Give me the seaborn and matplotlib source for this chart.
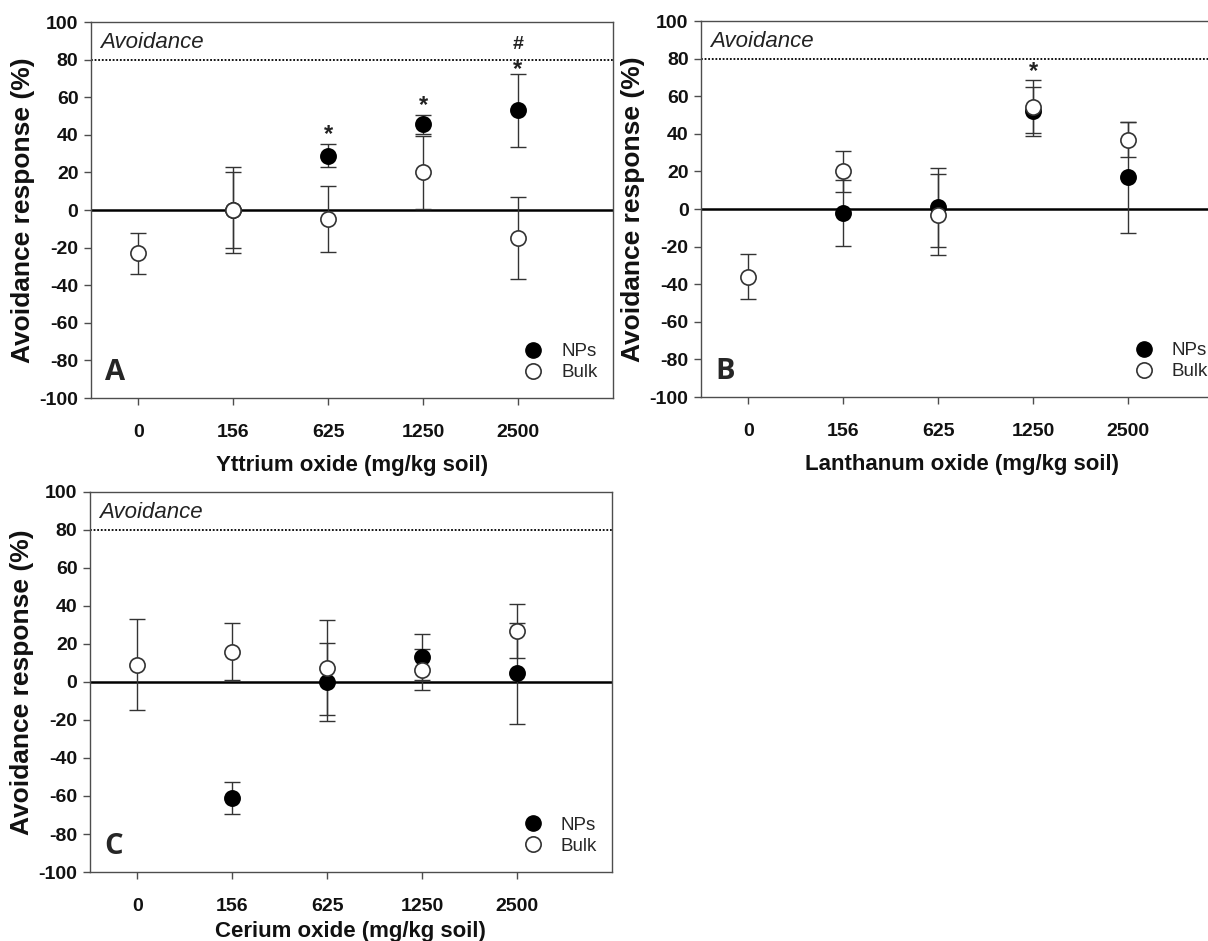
import numpy as np
import pandas as pd
import matplotlib
matplotlib.use("Agg")
import matplotlib.pyplot as plt
from matplotlib.lines import Line2D
import seaborn as sns

# ---------------- data ----------------
doses = ["0", "156", "625", "1250", "2500"]

np_Y = [np.nan, 0, 29, 45.5, 53]
np_Y_err = [np.nan, 20, 6, 5, 19.5]
bulk_Y = [-23, 0, -4.7, 20, -15]
bulk_Y_err = [11, 22.7, 17.4, 19.5, 21.7]

np_La = [np.nan, -2, 1, 52, 17]
np_La_err = [np.nan, 17.5, 21, 13, 29.5]
bulk_La = [-36, 20, -3, 54.5, 37]
bulk_La_err = [12, 11, 21.5, 14, 9.5]

np_Ce = [np.nan, -61, 0, 13, 4.5]
np_Ce_err = [np.nan, 8.5, 20.4, 12.2, 26.5]
bulk_Ce = [9, 16, 7.5, 6.5, 27]
bulk_Ce_err = [24, 15, 25, 10.8, 14.2]

xlabels = ["Yttrium oxide (mg/kg soil)", "Lanthanum oxide (mg/kg soil)", "Cerium oxide (mg/kg soil)"]
panel_letters = ["A", "B", "C"]
yticks = [100, 80, 60, 40, 20, 0, -20, -40, -60, -80, -100]

marks_Y = [(2, 40, "*"), (3, 55.5, "*"), (4, 75, "*"), (4, 88, "#")]
marks_La = [(3, 73, "*")]
marks_Ce = []

# ---------------- style ----------------
sns.set_theme(style="ticks")
plt.rcParams["font.family"] = ["Liberation Sans", "DejaVu Sans"]

fig = plt.figure(figsize=(12.08, 9.41), dpi=100)
positions = [
    [0.0753, 0.577, 0.432, 0.3996],
    [0.5803, 0.578, 0.432, 0.3996],
    [0.0745, 0.0733, 0.432, 0.404],
]
xlabelpads = [10, 10, 4]

panels = [
    (np_Y, np_Y_err, bulk_Y, bulk_Y_err, marks_Y),
    (np_La, np_La_err, bulk_La, bulk_La_err, marks_La),
    (np_Ce, np_Ce_err, bulk_Ce, bulk_Ce_err, marks_Ce),
]

spine_col = "#4d4d4d"
err_col = "#333333"

for i, (pos, (npv, npe, bv, be, marks)) in enumerate(zip(positions, panels)):
    ax = fig.add_axes(pos)
    xs = np.arange(len(doses))
    df = pd.DataFrame({
        "x": np.concatenate([xs, xs]),
        "y": np.concatenate([npv, bv]),
        "err": np.concatenate([npe, be]),
        "form": ["NPs"] * len(xs) + ["Bulk"] * len(xs),
    })
    ax.axhline(0, color="black", lw=1.8, zorder=1)
    ax.axhline(80, color="black", lw=1.3, ls=(0, (1, 1)), zorder=1)

    for form in ["NPs", "Bulk"]:
        sub = df[df["form"] == form].dropna()
        ax.errorbar(sub["x"], sub["y"], yerr=sub["err"], fmt="none",
                    ecolor=err_col, elinewidth=1.0, capsize=5.5, capthick=1.0, zorder=2)
    for form, face, z in [("NPs", "black", 3), ("Bulk", "white", 4)]:
        sub = df[df["form"] == form].dropna()
        sns.scatterplot(data=sub, x="x", y="y", ax=ax, s=120, color=face,
                        edgecolor=err_col if face == "white" else "black",
                        linewidth=1.2, zorder=z, legend=False)

    for (xi, yv, t) in marks:
        ax.text(xi, yv, t, ha="center", va="center", fontsize=17 if t == "*" else 14,
                fontweight="bold", color="#222222")

    ax.text(0.018, 89, "Avoidance", style="italic", fontsize=16, va="center", ha="left",
            transform=ax.get_yaxis_transform(), color="#222222")
    ax.text(0.027, 0.03, panel_letters[i], transform=ax.transAxes, fontsize=21,
            fontweight="bold", family=["Open Sans", "DejaVu Sans"], ha="left", va="bottom")

    ax.set_xlim(-0.5, 5.0)
    ax.set_ylim(-100, 100)
    ax.set_xticks(xs)
    ax.set_xticklabels(doses)
    ax.set_yticks(yticks)
    ax.set_yticklabels([str(t) for t in yticks])
    for lab in ax.get_xticklabels() + ax.get_yticklabels():
        lab.set_fontweight("bold")
        lab.set_fontsize(14)
        lab.set_color("#111111")
    ax.tick_params(axis="x", length=5, width=1, color=spine_col, pad=14, direction="out")
    ax.tick_params(axis="y", length=5, width=1, color=spine_col, pad=4, direction="out")
    for sp in ax.spines.values():
        sp.set_color(spine_col)
        sp.set_linewidth(1.0)
        sp.set_visible(True)
    ax.set_xlabel(xlabels[i], fontsize=16, fontweight="bold", labelpad=xlabelpads[i], color="#111111")
    ax.set_ylabel("Avoidance response (%)", fontsize=19, fontweight="bold", labelpad=3, color="#111111")

    handles = [
        Line2D([], [], marker="o", ls="none", markersize=11, markerfacecolor="black", markeredgecolor="black"),
        Line2D([], [], marker="o", ls="none", markersize=11, markerfacecolor="white", markeredgecolor=err_col, markeredgewidth=1.2),
    ]
    ax.legend(handles, ["NPs", "Bulk"], loc="lower left", bbox_to_anchor=(0.83, 0.045),
              frameon=False, fontsize=13.5, handlelength=1.0, handletextpad=1.0,
              labelspacing=0.2, borderpad=0, borderaxespad=0)

fig.savefig("out.png", dpi=100)
